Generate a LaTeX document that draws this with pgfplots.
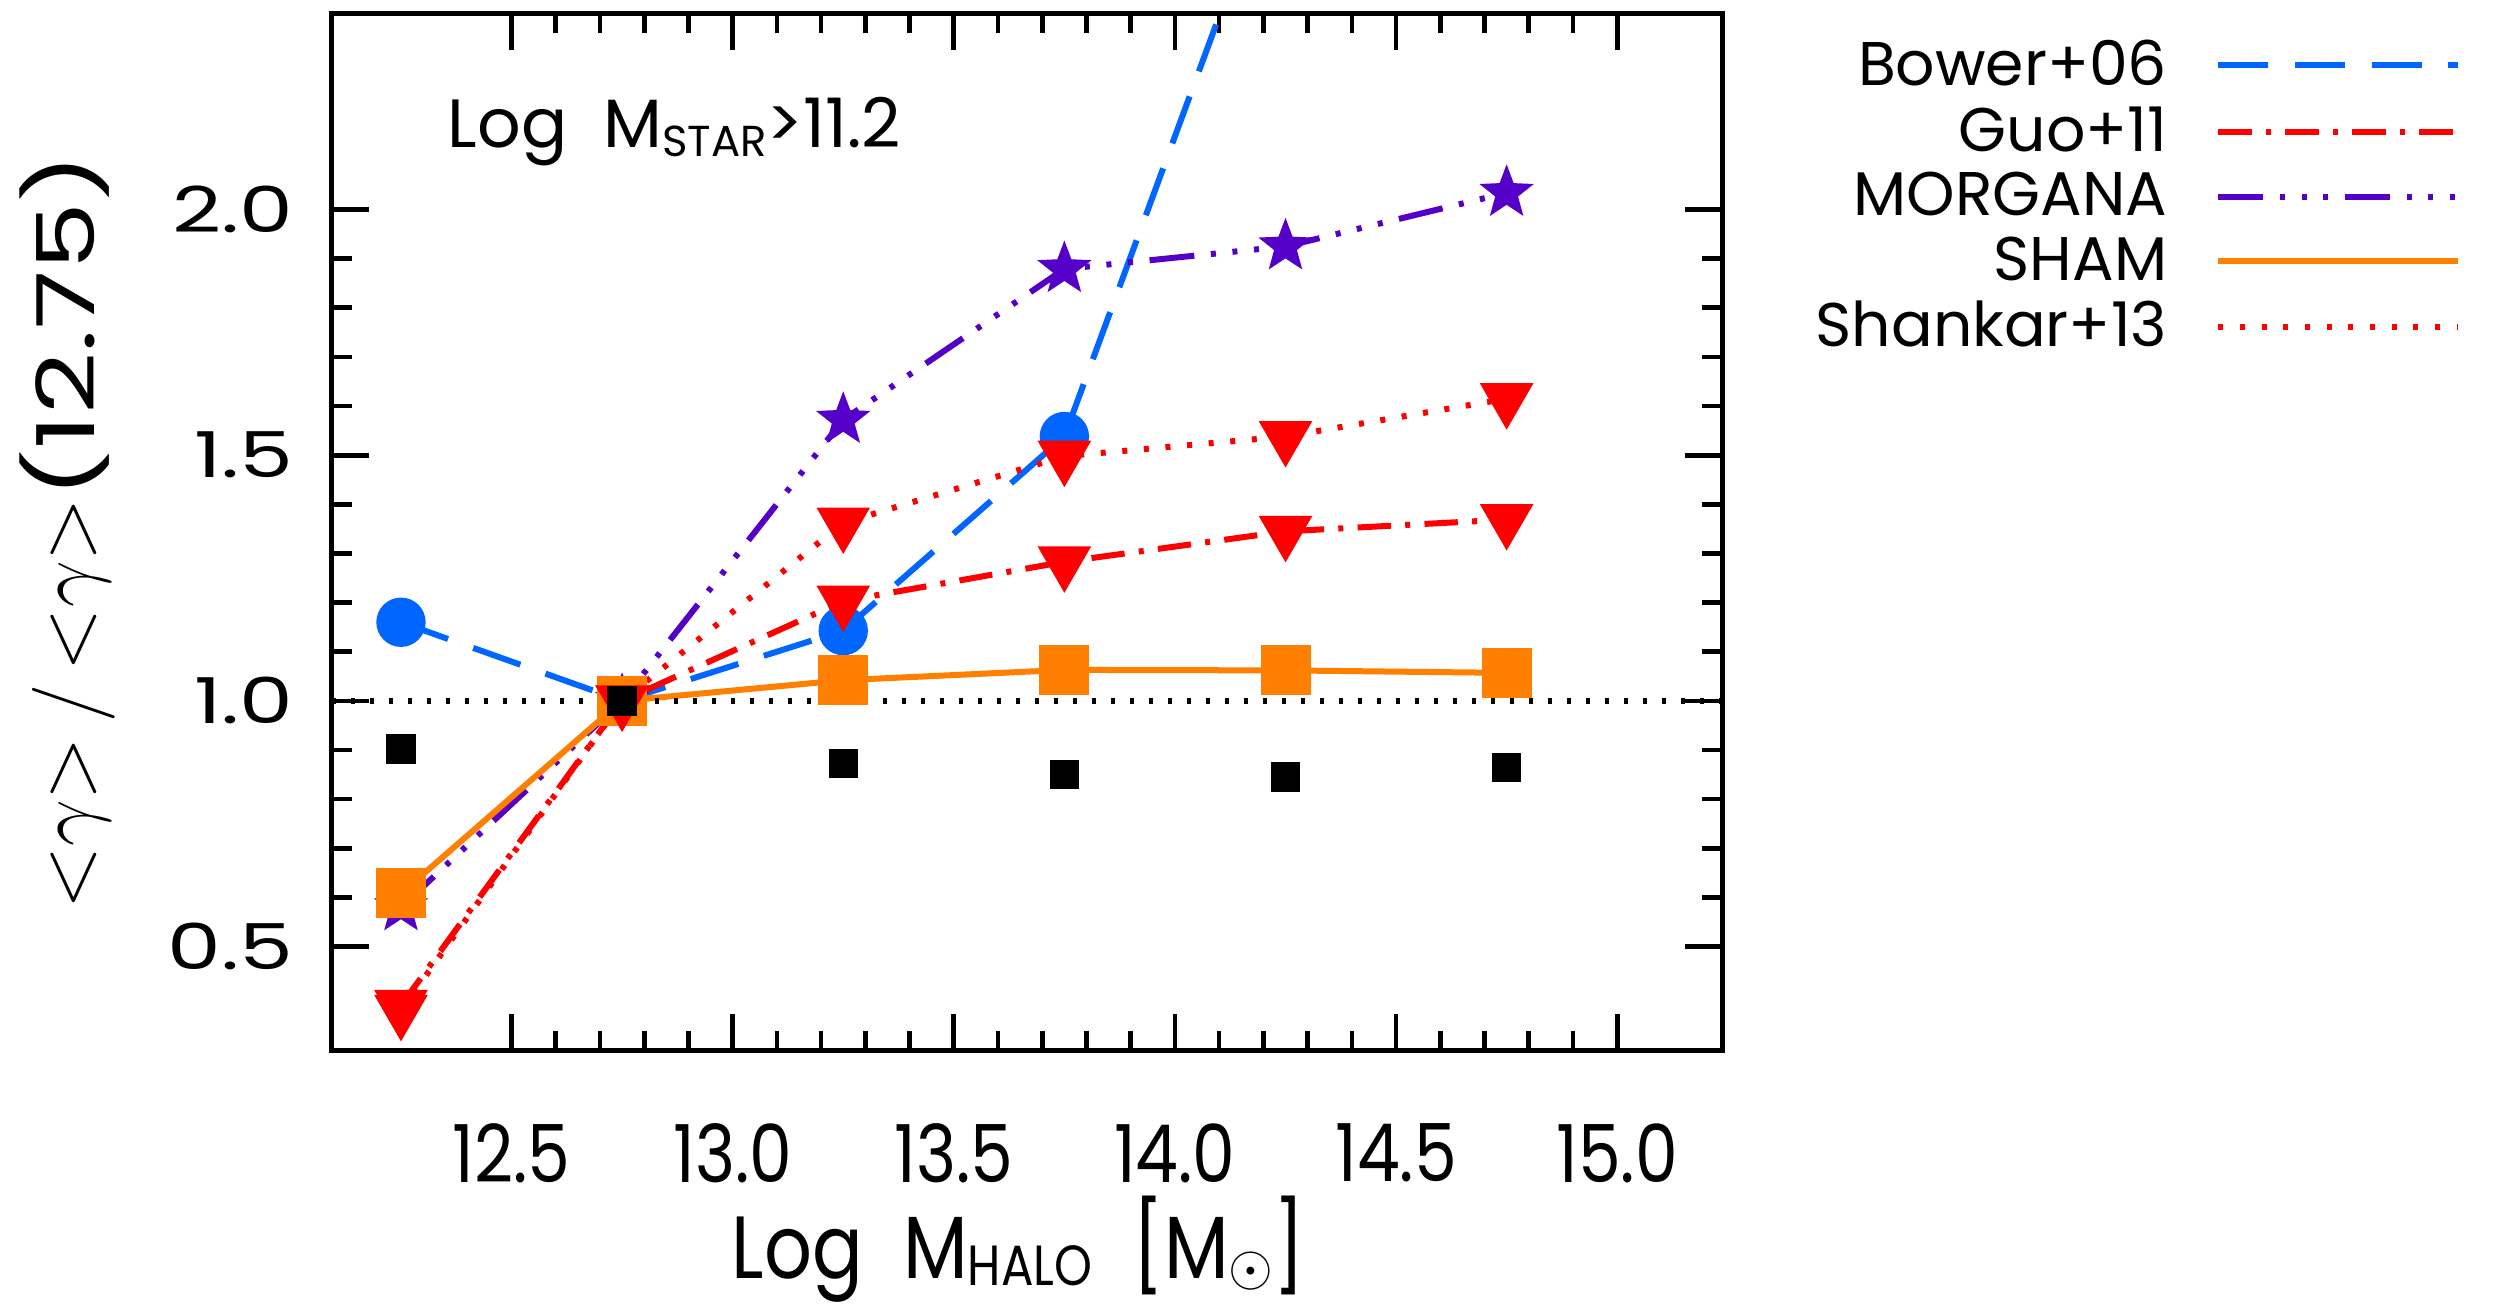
\documentclass[border=0pt]{standalone}
\usepackage{fontspec}
\setmainfont{Poppins}
\newfontfamily\yfont{Poppins}[FakeStretch=1.35]
\newfontfamily\xfont{Poppins}[FakeStretch=0.85]
\usepackage{pgfplots}
\pgfplotsset{compat=1.18}
\definecolor{cblue}{RGB}{0,102,255}
\definecolor{cred}{RGB}{255,0,0}
\definecolor{corange}{RGB}{255,128,0}
\definecolor{cpurple}{RGB}{85,0,200}
\pgfdeclareplotmark{fstar}{%
  \pgfpathmoveto{\pgfpointpolar{90}{\pgfplotmarksize}}%
  \pgfpathlineto{\pgfpointpolar{126}{0.42\pgfplotmarksize}}%
  \pgfpathlineto{\pgfpointpolar{162}{\pgfplotmarksize}}%
  \pgfpathlineto{\pgfpointpolar{198}{0.42\pgfplotmarksize}}%
  \pgfpathlineto{\pgfpointpolar{234}{\pgfplotmarksize}}%
  \pgfpathlineto{\pgfpointpolar{270}{0.42\pgfplotmarksize}}%
  \pgfpathlineto{\pgfpointpolar{306}{\pgfplotmarksize}}%
  \pgfpathlineto{\pgfpointpolar{342}{0.42\pgfplotmarksize}}%
  \pgfpathlineto{\pgfpointpolar{18}{\pgfplotmarksize}}%
  \pgfpathlineto{\pgfpointpolar{54}{0.42\pgfplotmarksize}}%
  \pgfpathclose\pgfusepathqfillstroke}
\newcommand{\ratio}{\mbox{\fontsize{27}{27}\selectfont$\mathord{<}\gamma\mathord{>}\,\big/\,\mathord{<}\gamma\mathord{>}$}}
\begin{document}
\begin{tikzpicture}
\begin{axis}[
  name=ax, at={(0,0)}, anchor=south west,
  scale only axis, width=417pt, height=311.3pt,
  xmin=12.094, xmax=15.237, ymin=0.288, ymax=2.40,
  xtick={12.5,13,13.5,14,14.5,15},
  xticklabels={12.5,13.0,13.5,14.0,14.5,15.0},
  ytick={0.5,1,1.5,2},
  yticklabels={0.5,1.0,1.5,2.0},
  minor x tick num=4, minor y tick num=4,
  tick align=inside, major tick length=11pt, minor tick length=6pt,
  axis line style={line width=1.5pt},
  every tick/.style={black, line width=1.4pt},
  xticklabel style={font=\xfont\fontsize{24}{24}\selectfont, anchor=north, inner sep=0pt, yshift=-21.7pt},
  yticklabel style={font=\yfont\fontsize{19}{19}\selectfont, anchor=east, inner sep=0pt, xshift=-11.4pt},
  xlabel={Log\ \ M\raisebox{-2pt}{\fontsize{17}{17}\selectfont HALO}\ \ [M\raisebox{-2pt}{\fontsize{17}{17}\selectfont$\odot$}]},
  xlabel style={font=\xfont\fontsize{26.5}{26.5}\selectfont, at={(axis description cs:0.494,-0.2195)}, anchor=base},
  ylabel={\ratio(12.75)},
  ylabel style={font=\yfont\fontsize{24}{24}\selectfont, at={(axis description cs:-0.171,0.5)}, anchor=base},
  legend cell align=right,
  legend plot pos=right,
  legend image code/.code={\draw[#1] (0pt,0pt) -- (72pt,0pt);},
  legend style={draw=none, fill=none, at={(axis description cs:1.532,0.977)}, anchor=north east,
    font=\fontsize{18.5}{18.5}\selectfont, row sep=2.8pt, inner sep=0pt, outer sep=0pt,
    nodes={inner sep=1pt},
    /tikz/every odd column/.append style={column sep=13.5pt}},
]
\addplot[cblue, line width=1.8pt, dash pattern=on 15pt off 8pt, mark=*, mark size=6.5pt, mark options={solid}]
  coordinates {(12.25,1.160) (12.75,1.0) (13.25,1.143) (13.75,1.538) (14.25,2.76)};
\addlegendentry{Bower+06}
\addplot[cred, line width=1.8pt, dash pattern=on 10pt off 4.3pt on 1.5pt off 4.3pt, mark=triangle*, mark size=7.5pt, mark options={solid, rotate=180}]
  coordinates {(12.25,0.38) (12.75,1.0) (13.25,1.203) (13.75,1.283) (14.25,1.345) (14.75,1.369)};
\addlegendentry{Guo+11}
\addplot[cpurple, line width=1.8pt, dash pattern=on 13.5pt off 5pt on 1.5pt off 5pt on 1.5pt off 5pt on 1.5pt off 5pt, mark=fstar, mark size=6pt, mark options={solid}]
  coordinates {(12.25,0.58) (12.75,1.0) (13.25,1.572) (13.75,1.879) (14.25,1.925) (14.75,2.034)};
\addlegendentry{MORGANA}
\addplot[corange, line width=1.8pt, solid, mark=square*, mark size=6.6pt]
  coordinates {(12.25,0.608) (12.75,1.0) (13.25,1.042) (13.75,1.063) (14.25,1.062) (14.75,1.057)};
\addlegendentry{SHAM}
\addplot[cred, line width=1.8pt, dash pattern=on 1.5pt off 5pt, mark=triangle*, mark size=7.5pt, mark options={solid, rotate=180}]
  coordinates {(12.25,0.37) (12.75,1.0) (13.25,1.362) (13.75,1.498) (14.25,1.538) (14.75,1.615)};
\addlegendentry{Shankar+13}
\addplot[black, line width=1.6pt, dash pattern=on 1.2pt off 4.5pt, forget plot]
  coordinates {(12.094,1) (15.237,1)};
\addplot[black, only marks, mark=square*, mark size=4.2pt, forget plot]
  coordinates {(12.25,0.902) (12.75,1.0) (13.25,0.873) (13.75,0.850) (14.25,0.845) (14.75,0.865)};
\node[anchor=base west, font=\fontsize{20.5}{20.5}\selectfont] at (axis description cs:0.0748,0.870) {Log\ \ M\raisebox{-2.5pt}{\fontsize{13}{13}\selectfont STAR}>11.2};
\end{axis}
\pgfresetboundingbox
\path[use as bounding box] (-99.6pt,-76.3pt) rectangle (654.9pt,315.2pt);
\end{tikzpicture}
\end{document}
